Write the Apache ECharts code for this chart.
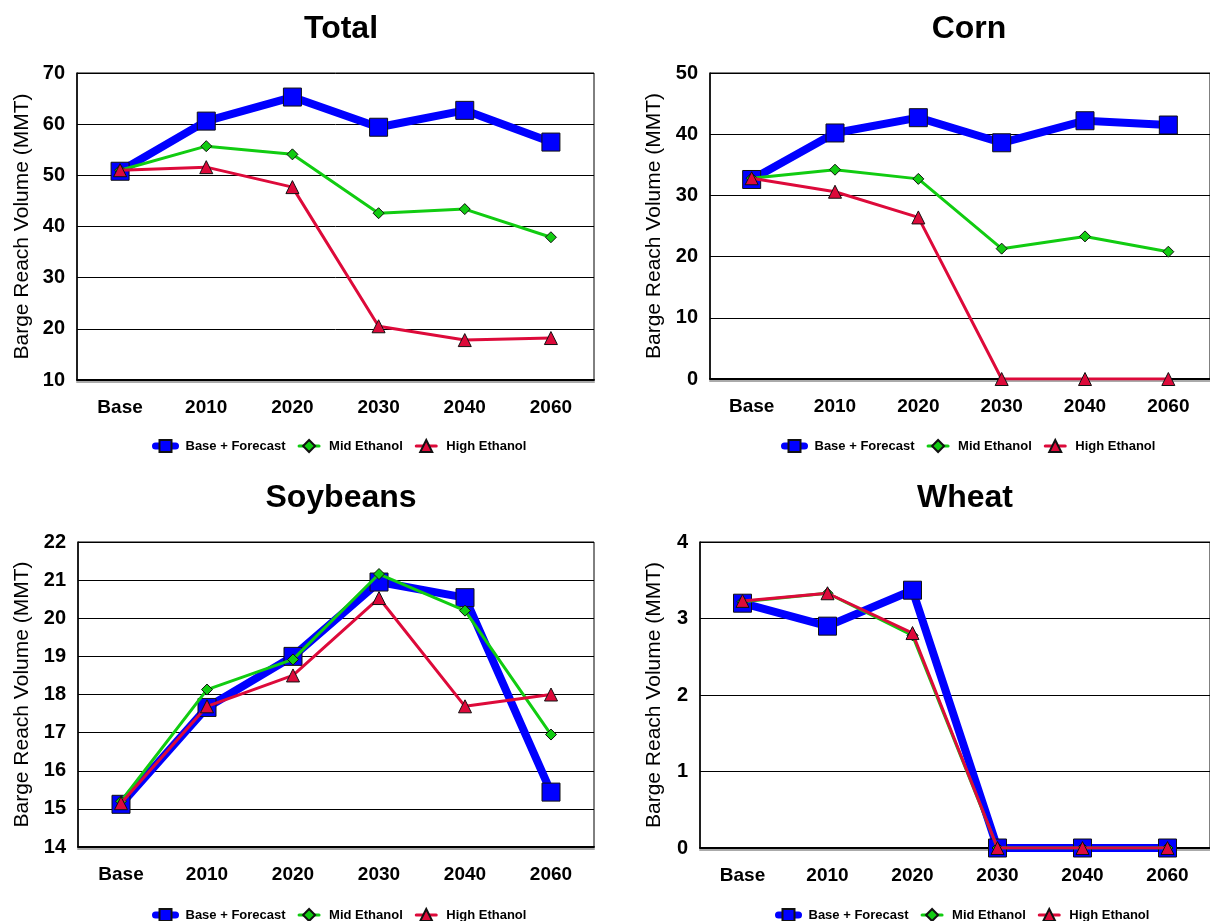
<!DOCTYPE html>
<html>
<head>
<meta charset="utf-8">
<script src="https://cdn.jsdelivr.net/npm/echarts@6/dist/echarts.min.js"></script>
<style>html,body{margin:0;padding:0;background:#fff}#c{width:1210px;height:921px}</style>
</head>
<body>
<div id="c"></div>
<script>
var categories = ['Base', '2010', '2020', '2030', '2040', '2060'];
var seriesNames = ['Base + Forecast', 'Mid Ethanol', 'High Ethanol'];
var panelTitles = ['Total', 'Corn', 'Soybeans', 'Wheat'];

var totalBase = [50.8, 60.6, 65.3, 59.4, 62.7, 56.5];
var totalMid  = [51.0, 55.7, 54.1, 42.6, 43.4, 37.9];
var totalHigh = [51.0, 51.6, 47.7, 20.5, 17.8, 18.2];

var cornBase = [32.6, 40.2, 42.7, 38.6, 42.2, 41.5];
var cornMid  = [32.8, 34.2, 32.7, 21.3, 23.3, 20.8];
var cornHigh = [32.8, 30.6, 26.4, 0, 0, 0];

var soyBase = [15.12, 17.66, 19.0, 20.95, 20.54, 15.44];
var soyMid  = [15.2, 18.13, 18.92, 21.16, 20.2, 16.95];
var soyHigh = [15.15, 17.69, 18.5, 20.53, 17.69, 18.0];

var wheatBase = [3.2, 2.9, 3.37, 0, 0, 0];
var wheatMid  = [3.22, 3.33, 2.78, 0, 0, 0];
var wheatHigh = [3.23, 3.33, 2.81, 0, 0, 0];

var yMin = [10, 0, 14, 0];
var yMax = [70, 50, 22, 4];
var yStep = [10, 10, 1, 1];

var panelData = [
  [totalBase, totalMid, totalHigh],
  [cornBase, cornMid, cornHigh],
  [soyBase, soyMid, soyHigh],
  [wheatBase, wheatMid, wheatHigh]
];

var grids = [
  {left: 77, top: 73, width: 517, height: 307},
  {left: 710, top: 73, width: 510, height: 306},
  {left: 78, top: 542, width: 516, height: 305},
  {left: 700, top: 542, width: 520, height: 306}
];
var titlePos = [[336, 8], [964, 8], [336, 477], [960, 477]];
var legendPos = [[147, 434], [776, 434], [147, 903], [770, 903]];
var nameGaps = [44, 45, 45, 35];

var FONT = 'Liberation Sans, Arial, sans-serif';
var styles = [
  {color: '#0000FF', width: 8, symbol: 'rect', size: 18, legendWidth: 7},
  {color: '#11CC11', width: 3, symbol: 'diamond', size: 11, legendWidth: 3},
  {color: '#DD0A3A', width: 3, symbol: 'triangle', size: 13, legendWidth: 3}
];

var option = {
  animation: false,
  backgroundColor: '#fff',
  title: [], grid: [], xAxis: [], yAxis: [], legend: [], series: []
};

var legendItems = seriesNames.map(function (n, i) {
  return {name: n, lineStyle: {width: styles[i].legendWidth, cap: 'round'}};
});

for (var p = 0; p < 4; p++) {
  option.title.push({
    text: panelTitles[p], left: titlePos[p][0], top: titlePos[p][1], textAlign: 'center',
    textStyle: {fontFamily: FONT, fontSize: 32, fontWeight: 'bold', color: '#000'}
  });
  var g = grids[p];
  option.grid.push({left: g.left, top: g.top, width: g.width, height: g.height,
    show: true, borderColor: '#000', borderWidth: 1, backgroundColor: 'transparent'});
  option.xAxis.push({
    type: 'category', gridIndex: p, data: categories, boundaryGap: true,
    axisLine: {lineStyle: {color: '#000', width: 2, shadowColor: '#aaa', shadowOffsetY: 2, shadowBlur: 0}},
    axisTick: {show: false},
    axisLabel: {fontFamily: FONT, fontSize: 19, fontWeight: 'bold', color: '#000', margin: 18}
  });
  option.yAxis.push({
    type: 'value', gridIndex: p, min: yMin[p], max: yMax[p], interval: yStep[p],
    name: 'Barge Reach Volume (MMT)', nameLocation: 'middle', nameGap: nameGaps[p],
    nameTextStyle: {fontFamily: FONT, fontSize: 21, color: '#000'},
    axisLine: {show: true, lineStyle: {color: '#000', width: 1.5}},
    axisTick: {show: false},
    splitLine: {lineStyle: {color: '#000', width: 1}},
    axisLabel: {fontFamily: FONT, fontSize: 20, fontWeight: 'bold', color: '#000', margin: 12}
  });
  option.legend.push({
    left: legendPos[p][0], top: legendPos[p][1], itemWidth: 20, itemHeight: 15, itemGap: 12,
    data: legendItems,
    textStyle: {fontFamily: FONT, fontSize: 13, fontWeight: 'bold', color: '#000', padding: [0, 0, 0, 5]}
  });
  for (var s = 0; s < 3; s++) {
    var st = styles[s];
    option.series.push({
      name: seriesNames[s], type: 'line', xAxisIndex: p, yAxisIndex: p,
      data: panelData[p][s], symbol: st.symbol, symbolSize: st.size,
      lineStyle: {color: st.color, width: st.width},
      itemStyle: {color: st.color, borderColor: '#111', borderWidth: 1},
      z: 2 + s
    });
  }
}

var chart = echarts.init(document.getElementById('c'), null, {renderer: 'canvas'});
chart.setOption(option);
</script>
</body>
</html>
